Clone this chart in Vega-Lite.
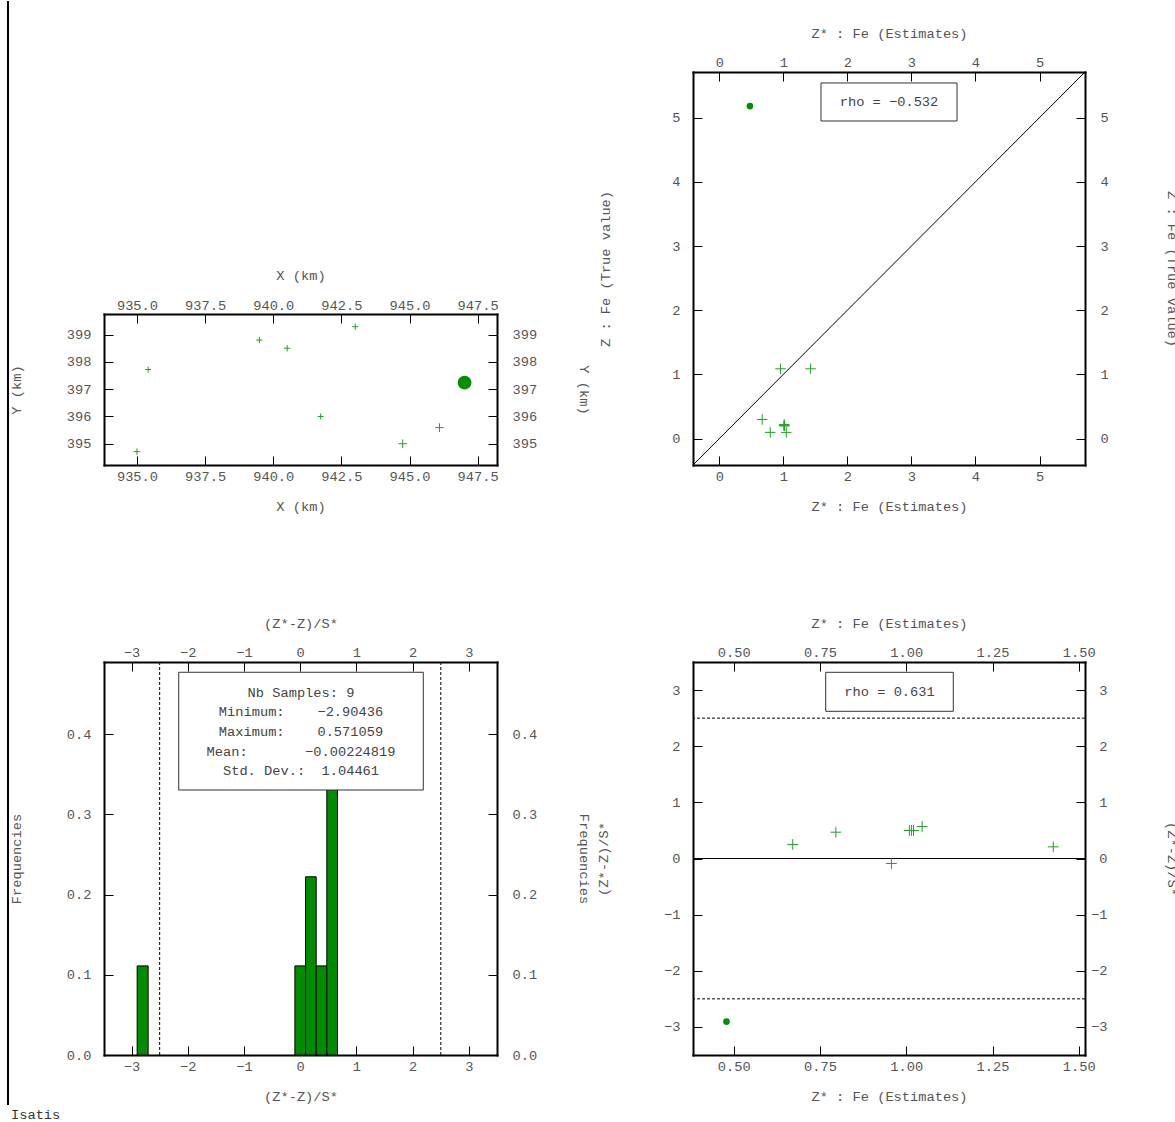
{
  "$schema": "https://vega.github.io/schema/vega-lite/v6.json",
  "padding": {"left": 7, "top": 0, "right": 0, "bottom": 0},
  "background": "white",
  "title": {"text": "Isatis", "orient": "bottom", "anchor": "start", "font": "Liberation Mono", "fontSize": 13.7, "fontWeight": "normal", "color": "#333", "offset": 2, "dx": 4},
  "datasets": {
    "samples": [
      {"X": 947.02, "Y": 397.24, "Zstar": 0.479, "Z": 5.18, "err": -2.904, "outlier": true},
      {"X": 944.75, "Y": 395.00, "Zstar": 0.957, "Z": 1.088, "err": -0.089, "outlier": false},
      {"X": 946.10, "Y": 395.59, "Zstar": 1.426, "Z": 1.088, "err": 0.208, "outlier": false},
      {"X": 935.00, "Y": 394.71, "Zstar": 0.671, "Z": 0.299, "err": 0.250, "outlier": false},
      {"X": 935.41, "Y": 397.72, "Zstar": 0.796, "Z": 0.098, "err": 0.469, "outlier": false},
      {"X": 939.49, "Y": 398.80, "Zstar": 1.009, "Z": 0.201, "err": 0.499, "outlier": false},
      {"X": 940.51, "Y": 398.50, "Zstar": 1.015, "Z": 0.220, "err": 0.500, "outlier": false},
      {"X": 943.01, "Y": 399.29, "Zstar": 1.021, "Z": 0.200, "err": 0.499, "outlier": false},
      {"X": 941.74, "Y": 396.00, "Zstar": 1.046, "Z": 0.098, "err": 0.571, "outlier": false}
    ],
    "hist": [
      {"lo": -2.90, "hi": -2.705, "freq": 0.1111},
      {"lo": -0.095, "hi": 0.095, "freq": 0.1111},
      {"lo": 0.095, "hi": 0.284, "freq": 0.2222},
      {"lo": 0.284, "hi": 0.473, "freq": 0.1111},
      {"lo": 0.473, "hi": 0.663, "freq": 0.4444}
    ]
  },
  "columns": 4,
  "bounds": "flush",
  "align": "each",
  "spacing": {"row": 197, "column": 95},
  "concat": [
    {
      "width": 1, "height": 1,
      "data": {"values": [{"v": 0}]},
      "mark": {"type": "rule", "color": "#000", "strokeWidth": 2},
      "encoding": {
        "x": {"field": "v", "type": "quantitative", "scale": {"domain": [0, 1]}, "axis": null},
        "y": {"datum": 0, "type": "quantitative", "scale": {"domain": [0, 1], "range": [-71, 1033]}, "axis": null},
        "y2": {"datum": 1}
      }
    },
    {
      "width": 393, "height": 393,
      "data": {"name": "samples"},
      "layer": [
        {
          "transform": [{"filter": "!datum.outlier"}],
          "mark": {"type": "point", "shape": "M-1,0L1,0M0,-1L0,1", "filled": false, "color": "#22a022", "strokeWidth": 1, "opacity": 1},
          "encoding": {
            "x": {"field": "X", "type": "quantitative", "scale": {"domain": [933.79, 948.21], "nice": false, "zero": false},
                  "axis": {"orient": "bottom", "title": "X (km)", "values": [935, 937.5, 940, 942.5, 945, 947.5], "format": ".1f", "titleY": 41, "labelPadding": 13}},
            "y": {"field": "Y", "type": "quantitative", "scale": {"domain": [394.22, 399.755], "nice": false, "zero": false, "range": [393, 242]},
                  "axis": {"orient": "left", "title": "Y (km)", "values": [395, 396, 397, 398, 399], "titleX": -88, "labelPadding": 22}},
            "size": {"field": "Z", "type": "quantitative", "scale": {"domain": [0.098, 1.088], "range": [36, 75]}, "legend": null}
          }
        },
        {
          "transform": [{"filter": "datum.outlier"}],
          "mark": {"type": "point", "shape": "circle", "filled": true, "color": "#009000", "size": 190, "opacity": 1},
          "encoding": {
            "x": {"field": "X", "type": "quantitative",
                  "axis": {"orient": "top", "title": "X (km)", "values": [935, 937.5, 940, 942.5, 945, 947.5], "format": ".1f", "offset": -242, "titleY": -39, "labelPadding": 11}},
            "y": {"field": "Y", "type": "quantitative",
                  "axis": {"orient": "right", "title": "Y (km)", "values": [395, 396, 397, 398, 399], "titleX": 86, "labelPadding": 24}}
          }
        }
      ],
      "resolve": {"axis": {"x": "independent", "y": "independent"}}
    },
    {"width": 6, "height": 1, "data": {"values": []}, "mark": "point"},
    {
      "width": 392, "height": 393,
      "layer": [
        {
          "data": {"values": [{}]},
          "mark": {"type": "rule", "color": "#000", "strokeWidth": 1},
          "encoding": {
            "x": {"datum": -0.41, "type": "quantitative", "axis": null},
            "y": {"datum": -0.41, "type": "quantitative", "axis": null},
            "x2": {"datum": 5.71},
            "y2": {"datum": 5.71}
          }
        },
        {
          "data": {"name": "samples"},
          "transform": [{"filter": "!datum.outlier"}],
          "mark": {"type": "point", "shape": "M-1,0L1,0M0,-1L0,1", "filled": false, "color": "#22a022", "strokeWidth": 1, "opacity": 1, "size": 110},
          "encoding": {
            "x": {"field": "Zstar", "type": "quantitative", "scale": {"domain": [-0.41, 5.71], "nice": false, "zero": false},
                  "axis": {"orient": "bottom", "title": "Z* : Fe (Estimates)", "values": [0, 1, 2, 3, 4, 5], "titleY": 41, "labelPadding": 13}},
            "y": {"field": "Z", "type": "quantitative", "scale": {"domain": [-0.41, 5.71], "nice": false, "zero": false},
                  "axis": {"orient": "left", "title": "Z : Fe (True value)", "values": [0, 1, 2, 3, 4, 5], "titleX": -88, "labelPadding": 22}}
          }
        },
        {
          "data": {"name": "samples"},
          "transform": [{"filter": "datum.outlier"}],
          "mark": {"type": "point", "shape": "circle", "filled": true, "color": "#009000", "size": 45, "opacity": 1},
          "encoding": {
            "x": {"field": "Zstar", "type": "quantitative",
                  "axis": {"orient": "top", "title": "Z* : Fe (Estimates)", "values": [0, 1, 2, 3, 4, 5], "titleY": -39, "labelPadding": 12}},
            "y": {"field": "Z", "type": "quantitative",
                  "axis": {"orient": "right", "title": "Z : Fe (True value)", "values": [0, 1, 2, 3, 4, 5], "titleX": 86, "labelPadding": 24}}
          }
        },
        {
          "data": {"values": [{}]},
          "mark": {"type": "rect", "fill": "white", "stroke": "#333", "strokeWidth": 1},
          "encoding": {
            "x": {"datum": 1.588, "type": "quantitative", "axis": null},
            "x2": {"datum": 3.712},
            "y": {"datum": 5.539, "type": "quantitative", "axis": null},
            "y2": {"datum": 4.947}
          }
        },
        {
          "data": {"values": [{}]},
          "mark": {"type": "text", "text": "rho = −0.532", "font": "Liberation Mono", "fontSize": 13.7, "color": "#444", "align": "center", "baseline": "middle"},
          "encoding": {
            "x": {"datum": 2.65, "type": "quantitative", "axis": null},
            "y": {"datum": 5.243, "type": "quantitative", "axis": null}
          }
        }
      ],
      "resolve": {"axis": {"x": "independent", "y": "independent"}}
    },
    {"width": 1, "height": 1, "data": {"values": []}, "mark": "point"},
    {
      "width": 393, "height": 393,
      "layer": [
        {
          "data": {"name": "hist"},
          "mark": {"type": "rect", "fill": "#008c00", "stroke": "#000", "strokeWidth": 1},
          "encoding": {
            "x": {"field": "lo", "type": "quantitative", "scale": {"domain": [-3.49, 3.5], "nice": false, "zero": false},
                  "axis": {"orient": "bottom", "title": "(Z*-Z)/S*", "values": [-3, -2, -1, 0, 1, 2, 3], "titleY": 41, "labelPadding": 13}},
            "x2": {"field": "hi"},
            "y": {"field": "freq", "type": "quantitative", "scale": {"domain": [0, 0.49], "nice": false, "zero": false},
                  "axis": {"orient": "left", "title": "Frequencies", "values": [0, 0.1, 0.2, 0.3, 0.4], "format": ".1f", "titleX": -88, "labelPadding": 22}},
            "y2": {"datum": 0}
          }
        },
        {
          "data": {"values": [{"v": -2.5}, {"v": 2.5}]},
          "mark": {"type": "rule", "color": "#000", "strokeWidth": 1, "strokeDash": [3, 2]},
          "encoding": {
            "x": {"field": "v", "type": "quantitative", "axis": null}
          }
        },
        {
          "data": {"values": [{}]},
          "mark": {"type": "rect", "fill": "white", "stroke": "#333", "strokeWidth": 1},
          "encoding": {
            "x": {"datum": -2.161, "type": "quantitative",
                  "axis": {"orient": "top", "title": "(Z*-Z)/S*", "values": [-3, -2, -1, 0, 1, 2, 3], "titleY": -39, "labelPadding": 12}},
            "x2": {"datum": 2.189},
            "y": {"datum": 0.4772, "type": "quantitative",
                  "axis": {"orient": "right", "title": "Frequencies", "values": [0, 0.1, 0.2, 0.3, 0.4], "format": ".1f", "titleX": 86, "labelPadding": 24}},
            "y2": {"datum": 0.3304}
          }
        },
        {
          "data": {"values": [{}]},
          "mark": {"type": "text", "text": ["Nb Samples: 9", "Minimum:\u00a0\u00a0\u00a0\u00a0−2.90436", "Maximum:\u00a0\u00a0\u00a0\u00a00.571059", "Mean:\u00a0\u00a0\u00a0\u00a0\u00a0\u00a0\u00a0−0.00224819", "Std.\u00a0Dev.:\u00a0\u00a01.04461"], "font": "Liberation Mono", "fontSize": 13.7, "color": "#444", "align": "center", "baseline": "middle", "lineHeight": 19.6},
          "encoding": {
            "x": {"datum": 0.014, "type": "quantitative", "axis": null},
            "y": {"datum": 0.4517, "type": "quantitative", "axis": null}
          }
        }
      ],
      "resolve": {"axis": {"x": "independent", "y": "independent"}}
    },
    {"width": 6, "height": 1, "data": {"values": []}, "mark": "point"},
    {
      "width": 392, "height": 393,
      "layer": [
        {
          "data": {"values": [{}]},
          "mark": {"type": "rule", "color": "#000", "strokeWidth": 1},
          "encoding": {
            "y": {"datum": 0, "type": "quantitative", "axis": null}
          }
        },
        {
          "data": {"values": [{"v": -2.5}, {"v": 2.5}]},
          "mark": {"type": "rule", "color": "#000", "strokeWidth": 1, "strokeDash": [3, 2]},
          "encoding": {
            "y": {"field": "v", "type": "quantitative", "axis": null}
          }
        },
        {
          "data": {"name": "samples"},
          "transform": [{"filter": "!datum.outlier"}],
          "mark": {"type": "point", "shape": "M-1,0L1,0M0,-1L0,1", "filled": false, "color": "#22a022", "strokeWidth": 1, "opacity": 1, "size": 115},
          "encoding": {
            "x": {"field": "Zstar", "type": "quantitative", "scale": {"domain": [0.382, 1.518], "nice": false, "zero": false},
                  "axis": {"orient": "bottom", "title": "Z* : Fe (Estimates)", "values": [0.5, 0.75, 1, 1.25, 1.5], "format": ".2f", "titleY": 41, "labelPadding": 13}},
            "y": {"field": "err", "type": "quantitative", "scale": {"domain": [-3.5, 3.5], "nice": false, "zero": false},
                  "axis": {"orient": "left", "title": "(Z*-Z)/S*", "values": [-3, -2, -1, 0, 1, 2, 3], "titleX": -90, "labelPadding": 22}}
          }
        },
        {
          "data": {"name": "samples"},
          "transform": [{"filter": "datum.outlier"}],
          "mark": {"type": "point", "shape": "circle", "filled": true, "color": "#009000", "size": 45, "opacity": 1},
          "encoding": {
            "x": {"field": "Zstar", "type": "quantitative",
                  "axis": {"orient": "top", "title": "Z* : Fe (Estimates)", "values": [0.5, 0.75, 1, 1.25, 1.5], "format": ".2f", "titleY": -39, "labelPadding": 12}},
            "y": {"field": "err", "type": "quantitative",
                  "axis": {"orient": "right", "title": "(Z*-Z)/S*", "values": [-3, -2, -1, 0, 1, 2, 3], "titleX": 86, "labelPadding": 31, "labelAlign": "right"}}
          }
        },
        {
          "data": {"values": [{}]},
          "mark": {"type": "rect", "fill": "white", "stroke": "#333", "strokeWidth": 1},
          "encoding": {
            "x": {"datum": 0.7666, "type": "quantitative", "axis": null},
            "x2": {"datum": 1.1363},
            "y": {"datum": 3.3165, "type": "quantitative", "axis": null},
            "y2": {"datum": 2.6219}
          }
        },
        {
          "data": {"values": [{}]},
          "mark": {"type": "text", "text": "rho = 0.631", "font": "Liberation Mono", "fontSize": 13.7, "color": "#444", "align": "center", "baseline": "middle"},
          "encoding": {
            "x": {"datum": 0.9515, "type": "quantitative", "axis": null},
            "y": {"datum": 2.969, "type": "quantitative", "axis": null}
          }
        }
      ],
      "resolve": {"axis": {"x": "independent", "y": "independent"}}
    }
  ],
  "config": {
    "view": {"stroke": null},
    "font": "Liberation Mono",
    "axis": {
      "domainColor": "#000", "domainWidth": 2, "domainCap": "square",
      "tickColor": "#000", "tickWidth": 1, "tickSize": -9,
      "grid": false,
      "labelFont": "Liberation Mono", "labelFontSize": 13.7, "labelColor": "#555",
      "titleFont": "Liberation Mono", "titleFontSize": 13.7, "titleColor": "#555", "titleFontWeight": "normal", "titleBaseline": "middle",
      "labelFlush": false, "labelOverlap": false
    }
  }
}
